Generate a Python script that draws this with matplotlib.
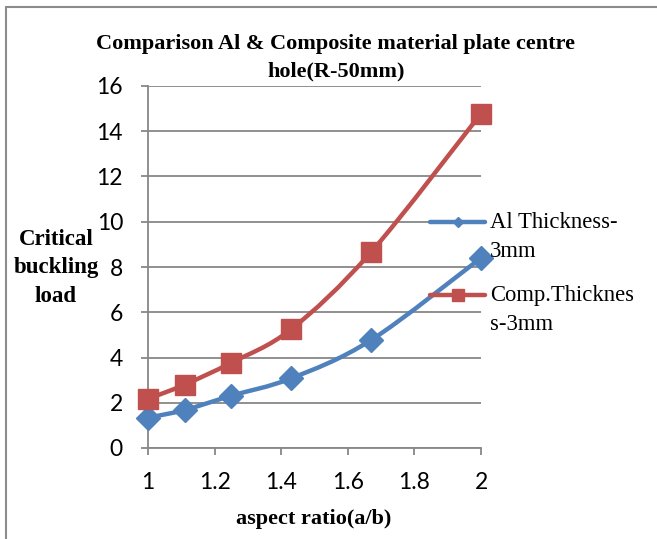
import matplotlib
matplotlib.use("Agg")
import matplotlib.pyplot as plt
import numpy as np
from matplotlib.path import Path
from matplotlib.patches import PathPatch, Rectangle
from matplotlib.lines import Line2D

# ---- data ----
aspect_ratio = [1.0, 1.11, 1.25, 1.43, 1.67, 2.0]
al_load = [1.34, 1.68, 2.31, 3.08, 4.77, 8.40]
comp_load = [2.17, 2.80, 3.77, 5.25, 8.66, 14.78]
series_names = ["Al Thickness-\n3mm", "Comp.Thicknes\ns-3mm"]
x_ticks = [1, 1.2, 1.4, 1.6, 1.8, 2]
x_ticklabels = ["1", "1.2", "1.4", "1.6", "1.8", "2"]
y_ticks = [0, 2, 4, 6, 8, 10, 12, 14, 16]
y_ticklabels = ["0", "2", "4", "6", "8", "10", "12", "14", "16"]

BLUE = "#4F81BD"
RED = "#C0504D"
GRID = "#878787"
SERIF = ["Liberation Serif", "DejaVu Serif"]
SANS = ["Lato", "DejaVu Sans"]

W, H = 657, 539
fig = plt.figure(figsize=(W / 100, H / 100), dpi=100)
fig.patch.set_facecolor("white")

# outer chart border (extends past right / bottom edges)
fig.add_artist(Rectangle((5.5 / W, -0.1), 1.2, 1 - 6.5 / H + 0.1, transform=fig.transFigure,
                         fill=False, edgecolor="#8c8c8c", linewidth=1.5))

ax = fig.add_axes([148 / W, 91 / H, (481 - 148) / W, (448 - 86) / H])
ax.set_xlim(1, 2)
ax.set_ylim(0, 16)
ax.set_xticks(x_ticks)
ax.set_xticklabels(x_ticklabels, fontfamily=SANS, fontsize=16.5)
ax.set_yticks(y_ticks)
ax.set_yticklabels(y_ticklabels, fontfamily=SANS, fontsize=16.5)
for s in ["top", "right"]:
    ax.spines[s].set_visible(False)
for s in ["left", "bottom"]:
    ax.spines[s].set_color(GRID)
    ax.spines[s].set_linewidth(1.3)
ax.tick_params(axis="both", direction="out", length=5, width=1.3, color=GRID)
ax.tick_params(axis="x", pad=12)
ax.tick_params(axis="y", pad=13)
ax.yaxis.grid(True, color=GRID, linewidth=1.3)
ax.set_axisbelow(True)


def smooth_path(xs, ys):
    pts = np.column_stack([xs, ys])
    n = len(pts)
    verts = [pts[0]]
    codes = [Path.MOVETO]
    for i in range(n - 1):
        p0 = pts[i - 1] if i > 0 else pts[i]
        p1 = pts[i]
        p2 = pts[i + 1]
        p3 = pts[i + 2] if i + 2 < n else pts[i + 1]
        b1 = p1 + (p2 - p0) / 6.0
        b2 = p2 - (p3 - p1) / 6.0
        verts += [b1, b2, p2]
        codes += [Path.CURVE4] * 3
    return Path(verts, codes)


for ys, col, mk, ms in [(al_load, BLUE, "D", 12), (comp_load, RED, "s", 14)]:
    ax.add_patch(PathPatch(smooth_path(aspect_ratio, ys), facecolor="none",
                           edgecolor=col, linewidth=3.2, capstyle="round",
                           joinstyle="round", zorder=3))
    ax.plot(aspect_ratio, ys, linestyle="none", marker=mk, markersize=ms,
            color=col, zorder=4, clip_on=False)

# title
fig.text(336 / W, 1 - 44 / H, "Comparison Al & Composite material plate centre",
         ha="center", va="center", fontfamily=SERIF, fontweight="bold", fontsize=16)
fig.text(336 / W, 1 - 71 / H, "hole(R-50mm)",
         ha="center", va="center", fontfamily=SERIF, fontweight="bold", fontsize=16)

# axis titles
for txt, yy in [("Critical", 239), ("buckling", 268), ("load", 296)]:
    fig.text(56 / W, 1 - yy / H, txt, ha="center", va="center",
             fontfamily=SERIF, fontweight="bold", fontsize=16.5)
fig.text(314 / W, 1 - 519 / H, "aspect ratio(a/b)", ha="center", va="center",
         fontfamily=SERIF, fontweight="bold", fontsize=16)

# legend (manual, first text line aligned with handle)
for name, col, mk, ms, yy in [(series_names[0], BLUE, "D", 5.5, 222),
                              (series_names[1], RED, "s", 9, 295)]:
    fig.add_artist(Line2D([430 / W, 485 / W], [1 - yy / H, 1 - yy / H],
                          transform=fig.transFigure, color=col, linewidth=3.2,
                          solid_capstyle="round"))
    fig.add_artist(Line2D([457.5 / W], [1 - yy / H], transform=fig.transFigure,
                          color=col, marker=mk, markersize=ms, linestyle="none"))
    l1, l2 = name.split("\n")
    fig.text(490 / W, 1 - (yy + 1) / H, l1, ha="left", va="center",
             fontfamily=SERIF, fontsize=16.3)
    fig.text(490 / W, 1 - (yy + 30) / H, l2, ha="left", va="center",
             fontfamily=SERIF, fontsize=16.3)

fig.savefig("out.png", dpi=100)
